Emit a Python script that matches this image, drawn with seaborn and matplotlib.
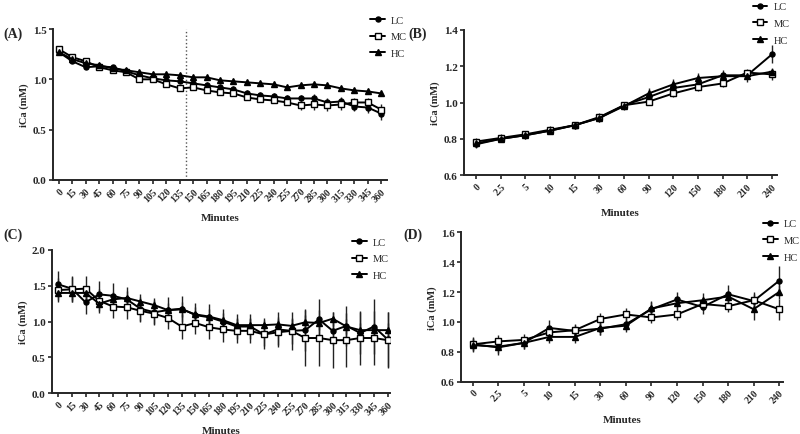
import matplotlib
matplotlib.use("Agg")
import matplotlib.pyplot as plt
import seaborn as sns
import numpy as np

# ---- data ----
long_minutes = ["0", "15", "30", "45", "60", "75", "90", "105", "120", "135", "150", "165",
                "180", "195", "210", "225", "240", "255", "270", "285", "300", "315",
                "330", "345", "360"]
short_minutes = ["0", "2.5", "5", "10", "15", "30", "60", "90", "120", "150", "180", "210", "240"]

a_lc = [1.27, 1.18, 1.12, 1.13, 1.12, 1.08, 1.04, 1.01, 0.99, 0.98, 0.96, 0.94, 0.92, 0.90,
        0.86, 0.84, 0.83, 0.81, 0.81, 0.81, 0.77, 0.78, 0.73, 0.72, 0.66]
a_mc = [1.30, 1.22, 1.18, 1.12, 1.09, 1.07, 1.00, 1.00, 0.95, 0.91, 0.92, 0.89, 0.87, 0.86,
        0.82, 0.80, 0.79, 0.77, 0.74, 0.75, 0.74, 0.75, 0.77, 0.77, 0.70]
a_hc = [1.27, 1.20, 1.16, 1.14, 1.11, 1.09, 1.07, 1.05, 1.05, 1.04, 1.02, 1.02, 0.99, 0.98,
        0.97, 0.96, 0.95, 0.92, 0.94, 0.95, 0.94, 0.91, 0.89, 0.88, 0.86]
a_lc_err = [0.02, 0.02, 0.02, 0.02, 0.02, 0.02, 0.02, 0.02, 0.02, 0.02, 0.03, 0.03, 0.03,
            0.03, 0.03, 0.03, 0.03, 0.03, 0.03, 0.04, 0.04, 0.04, 0.04, 0.05, 0.06]
a_mc_err = [0.02, 0.02, 0.02, 0.02, 0.02, 0.02, 0.02, 0.02, 0.02, 0.02, 0.03, 0.03, 0.03,
            0.03, 0.03, 0.03, 0.03, 0.03, 0.04, 0.05, 0.05, 0.05, 0.04, 0.04, 0.05]
a_hc_err = [0.02] * 25

b_lc = [0.77, 0.80, 0.82, 0.845, 0.875, 0.915, 0.985, 1.03, 1.08, 1.10, 1.15, 1.15, 1.265]
b_mc = [0.785, 0.805, 0.825, 0.85, 0.875, 0.92, 0.985, 1.005, 1.05, 1.085, 1.105, 1.165, 1.155]
b_hc = [0.775, 0.80, 0.82, 0.845, 0.875, 0.915, 0.98, 1.05, 1.10, 1.135, 1.145, 1.145, 1.17]
b_lc_err = [0.02, 0.02, 0.02, 0.02, 0.02, 0.02, 0.02, 0.02, 0.02, 0.02, 0.03, 0.02, 0.05]
b_mc_err = [0.02, 0.02, 0.02, 0.02, 0.02, 0.02, 0.02, 0.02, 0.02, 0.02, 0.02, 0.02, 0.03]
b_hc_err = [0.02, 0.02, 0.02, 0.02, 0.02, 0.02, 0.02, 0.03, 0.03, 0.03, 0.02, 0.03, 0.02]

c_lc = [1.52, 1.46, 1.27, 1.38, 1.36, 1.31, 1.18, 1.13, 1.16, 1.18, 1.09, 1.06, 1.00, 0.93,
        0.93, 0.82, 0.89, 0.87, 0.88, 1.03, 0.87, 0.94, 0.84, 0.93, 0.75]
c_mc = [1.44, 1.45, 1.46, 1.29, 1.21, 1.20, 1.15, 1.11, 1.05, 0.93, 0.98, 0.92, 0.89, 0.87,
        0.87, 0.82, 0.85, 0.87, 0.77, 0.77, 0.74, 0.74, 0.77, 0.77, 0.74]
c_hc = [1.40, 1.40, 1.40, 1.25, 1.31, 1.33, 1.28, 1.23, 1.16, 1.17, 1.10, 1.07, 1.02, 0.95,
        0.95, 0.95, 0.96, 0.94, 0.99, 0.98, 1.04, 0.93, 0.88, 0.88, 0.88]
c_lc_err = [0.18, 0.18, 0.17, 0.18, 0.18, 0.17, 0.17, 0.17, 0.18, 0.18, 0.17, 0.18, 0.18,
            0.18, 0.18, 0.20, 0.24, 0.18, 0.29, 0.28, 0.20, 0.28, 0.30, 0.39, 0.39]
c_mc_err = [0.17, 0.17, 0.17, 0.17, 0.16, 0.16, 0.16, 0.16, 0.16, 0.17, 0.16, 0.17, 0.17,
            0.17, 0.17, 0.16, 0.18, 0.27, 0.39, 0.39, 0.39, 0.38, 0.38, 0.38, 0.39]
c_hc_err = [0.10] * 25

d_lc = [0.85, 0.83, 0.86, 0.96, 0.94, 0.955, 0.985, 1.085, 1.15, 1.10, 1.185, 1.14, 1.275]
d_mc = [0.85, 0.87, 0.88, 0.93, 0.945, 1.02, 1.05, 1.03, 1.05, 1.12, 1.105, 1.145, 1.085]
d_hc = [0.845, 0.835, 0.86, 0.90, 0.90, 0.96, 0.975, 1.09, 1.125, 1.145, 1.17, 1.085, 1.20]
d_lc_err = [0.05, 0.05, 0.04, 0.05, 0.04, 0.04, 0.04, 0.05, 0.05, 0.05, 0.06, 0.06, 0.10]
d_mc_err = [0.04, 0.04, 0.04, 0.04, 0.04, 0.04, 0.04, 0.04, 0.04, 0.04, 0.04, 0.04, 0.07]
d_hc_err = [0.04, 0.04, 0.04, 0.04, 0.04, 0.05, 0.04, 0.05, 0.04, 0.05, 0.04, 0.07, 0.05]

groups = ["LC", "MC", "HC"]

sns.set_style("ticks")
plt.rcParams["font.family"] = ["Liberation Serif", "DejaVu Serif"]
plt.rcParams["axes.linewidth"] = 1.4

styles = {
    "LC": dict(marker="o", markersize=3.6, markerfacecolor="black"),
    "MC": dict(marker="s", markersize=4.6, markerfacecolor="white"),
    "HC": dict(marker="^", markersize=3.8, markerfacecolor="black"),
}

fig = plt.figure(figsize=(8, 4.35), dpi=100)


def draw_panel(rect, cats, series, errs, ylim, yticks, xlim, leg_anchor, vline=None):
    ax = fig.add_axes(rect)
    pos = np.arange(len(cats))
    for name, vals, err in zip(groups, series, errs):
        ax.errorbar(pos, vals, yerr=err, fmt="none", ecolor="#222222", elinewidth=1.0,
                    capsize=0, zorder=1)
        sns.lineplot(x=pos, y=vals, ax=ax, color="black", linewidth=1.4,
                     markeredgecolor="black", markeredgewidth=1.0, label=name,
                     zorder=3, **styles[name])
    if vline is not None:
        ax.axvline(vline, color="#555555", linestyle=":", linewidth=1.0, zorder=0)
    ax.set_xlim(*xlim)
    ax.set_ylim(*ylim)
    ax.set_yticks(yticks)
    ax.set_yticklabels([f"{t:.1f}" for t in yticks], fontsize=8, fontweight="bold")
    ax.set_xticks(pos)
    ax.set_xticklabels(cats, rotation=45, ha="right", rotation_mode="anchor",
                       fontsize=7, fontweight="bold")
    ax.tick_params(axis="both", direction="out", length=3, width=1.2, pad=1.5)
    ax.set_ylabel("iCa (mM)", fontsize=7.5, fontweight="bold", labelpad=3)
    ax.set_xlabel("Minutes", fontsize=8, fontweight="bold", labelpad=7)
    sns.despine(ax=ax)
    handles, labels = ax.get_legend_handles_labels()
    ax.legend(handles, labels, loc="upper left", bbox_to_anchor=leg_anchor,
              bbox_transform=fig.transFigure, frameon=False, fontsize=7.5,
              handlelength=1.4, handletextpad=0.6, labelspacing=0.7,
              borderpad=0, borderaxespad=0)
    return ax


ax_a = draw_panel([0.066, 0.584, 0.418, 0.347], long_minutes, [a_lc, a_mc, a_hc],
                  [a_lc_err, a_mc_err, a_hc_err], (0, 1.5), [0.0, 0.5, 1.0, 1.5],
                  (-0.45, 24.45), (0.463, 0.962), vline=9.5)
ax_b = draw_panel([0.58, 0.595, 0.391, 0.334], short_minutes, [b_lc, b_mc, b_hc],
                  [b_lc_err, b_mc_err, b_hc_err], (0.6, 1.4), [0.6, 0.8, 1.0, 1.2, 1.4],
                  (-0.49, 12.2), (0.941, 0.993))
ax_c = draw_panel([0.065, 0.094, 0.423, 0.329], long_minutes, [c_lc, c_mc, c_hc],
                  [c_lc_err, c_mc_err, c_hc_err], (0, 2.0), [0.0, 0.5, 1.0, 1.5, 2.0],
                  (-0.44, 24.2), (0.44, 0.452))
ax_d = draw_panel([0.576, 0.12, 0.403, 0.344], short_minutes, [d_lc, d_mc, d_hc],
                  [d_lc_err, d_mc_err, d_hc_err], (0.6, 1.6), [0.6, 0.8, 1.0, 1.2, 1.4, 1.6],
                  (-0.47, 12.16), (0.954, 0.494))

for label, x, y in [("(A)", 0.004, 0.912), ("(B)", 0.51, 0.912),
                    ("(C)", 0.004, 0.452), ("(D)", 0.504, 0.452)]:
    fig.text(x, y, label, fontsize=10, fontweight="bold")

fig.savefig("out.png", dpi=100)
